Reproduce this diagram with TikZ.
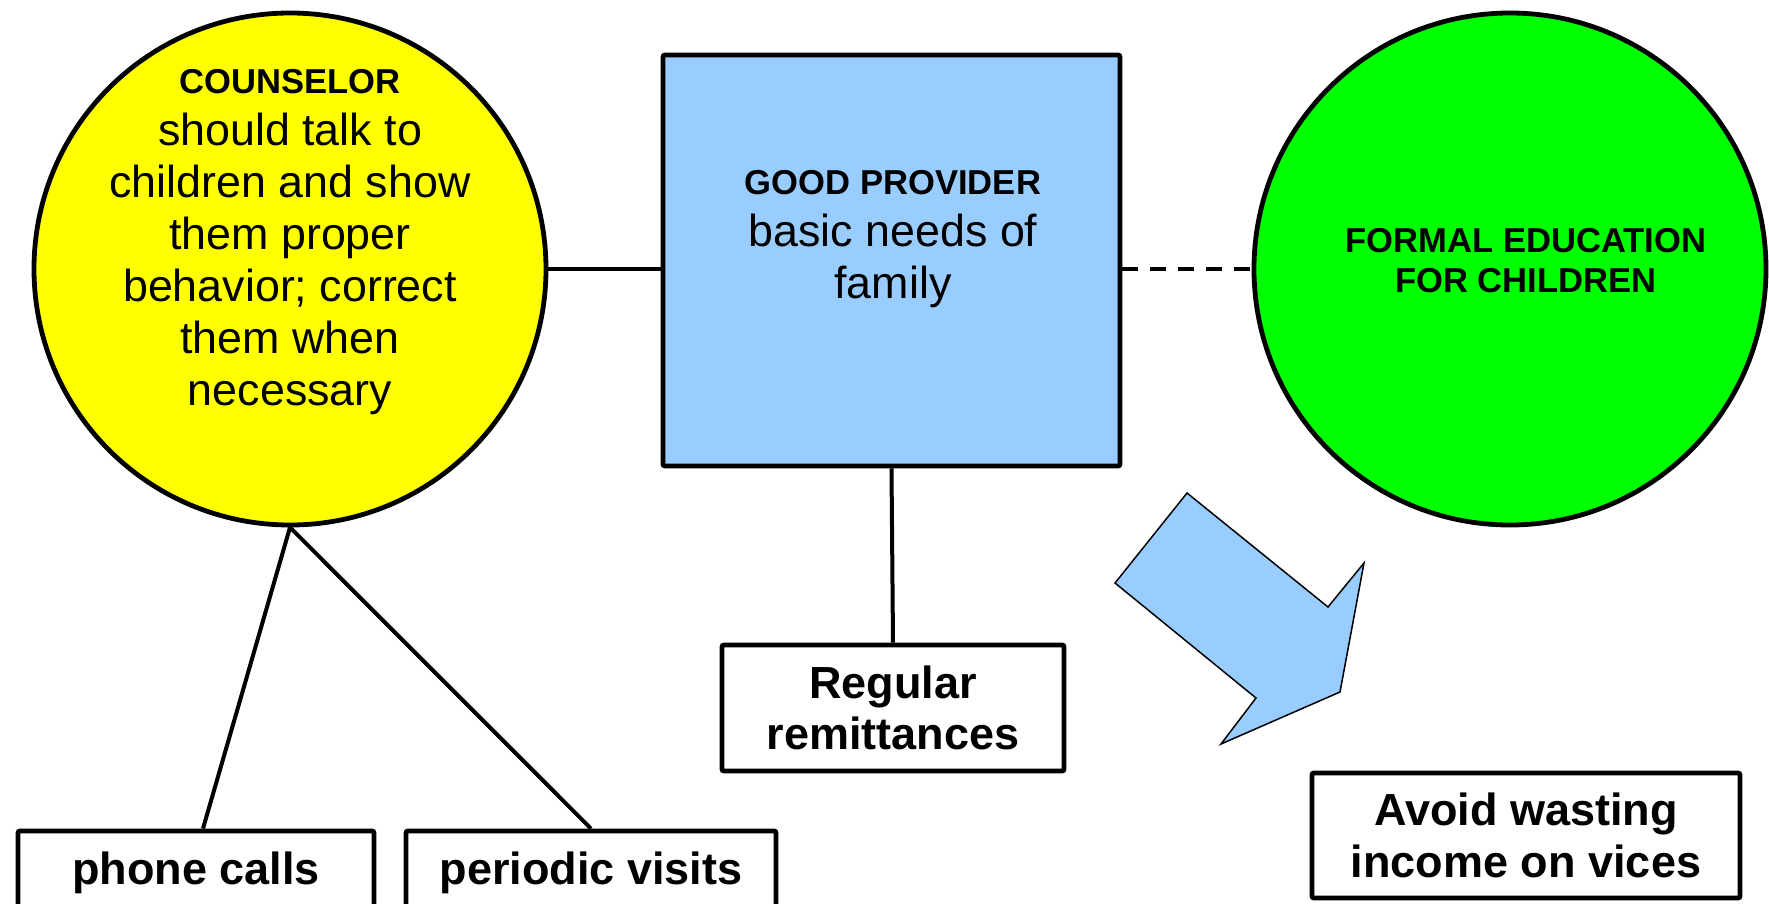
\documentclass[tikz,border=0pt]{standalone}
\usepackage{fontspec}
\setmainfont{Liberation Sans}
\definecolor{cyel}{HTML}{FFFF00}
\definecolor{cgreen}{HTML}{00FF00}
\definecolor{cblue}{HTML}{99CCFF}
\begin{document}
\begin{tikzpicture}[x=0.5pt,y=-0.5pt,
  bord/.style={draw=black, line width=2.4pt},
  circ/.style={bord, circle, inner sep=0pt, minimum size=256pt},
  plainbox/.style={bord, rectangle, fill=white, inner sep=0pt, align=center,
    font=\bfseries\fontsize{22.5}{25.8}\selectfont, rounded corners=1pt},
  bodytxt/.style={inner sep=0pt, align=center, font=\fontsize{22.4}{26}\selectfont},
  headtxt/.style={inner sep=0pt, align=center, font=\bfseries\fontsize{17.3}{20}\selectfont},
  link/.style={line width=2pt}]
\clip (0,0) rectangle (1769,904);
\fill[white] (0,0) rectangle (1769,904);
% main shapes
\node[circ, fill=cyel] (counsel) at (290,269) {};
\node[circ, fill=cgreen] (educ) at (1510,269) {};
\node[bord, fill=cblue, rectangle, inner sep=0pt, rounded corners=1pt,
      minimum width=228.5pt, minimum height=205.5pt] (provider) at (891.5,260.5) {};
\node[plainbox, minimum width=171pt, minimum height=63pt] (remit) at (893,708) {Regular\\remittances};
\node[plainbox, minimum width=214pt, minimum height=62.5pt] (avoid) at (1526,835.5) {Avoid wasting\\income on vices};
\node[plainbox, minimum width=178pt, minimum height=42pt] (phone) at (196,873) {phone calls};
\node[plainbox, minimum width=185pt, minimum height=42pt] (visits) at (591,873) {periodic visits};
% texts
\node[bodytxt, anchor=north] (counseltxt) at (290,69)
  {{\bfseries\fontsize{17.3}{20}\selectfont COUNSELOR}\\should talk to\\children and show\\them proper\\behavior; correct\\them when\\necessary};
\node[bodytxt, anchor=north] (providertxt) at (893,170)
  {{\bfseries\fontsize{17.3}{20}\selectfont GOOD PROVIDER}\\basic needs of\\family};
\node[headtxt, anchor=north] (eductxt) at (1526,228) {FORMAL EDUCATION\\FOR CHILDREN};
% connectors
\draw[link] (counsel.east) -- (counsel.east -| provider.west);
\draw[link, dash pattern=on 8pt off 6pt] (provider.east |- educ.west) -- (educ.west);
\draw[link] (counsel.south) -- ([xshift=3.5pt]phone.north);
\draw[link] (counsel.south) -- (visits.north);
\draw[link] (provider.south) -- (remit.north);
% block arrow
\filldraw[fill=cblue, draw=black, line width=0.75pt]
  (1187,493) -- (1328,607) -- (1364,563) -- (1340,692) -- (1221,744) -- (1256,698) -- (1115,583) -- cycle;
\end{tikzpicture}
\end{document}
